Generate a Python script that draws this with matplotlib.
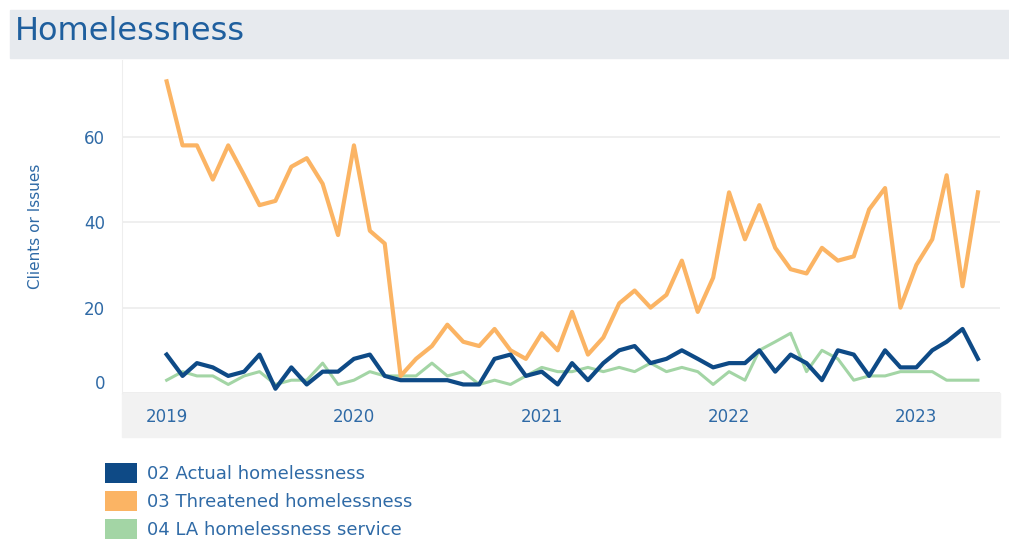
import pandas as pd
import matplotlib as mpl
import matplotlib.pyplot as plt
from matplotlib.patches import Patch, Rectangle

mpl.use('Agg')

# monthly counts, Jan 2019 - May 2023
months = pd.date_range('2019-01-01', periods=53, freq='MS')

actual = [9, 4, 7, 6, 4, 5, 9, 1, 6, 2, 5, 5,
          8, 9, 4, 3, 3, 3, 3, 2, 2, 8, 9, 4,
          5, 2, 7, 3, 7, 10, 11, 7, 8, 10, 8, 6,
          7, 7, 10, 5, 9, 7, 3, 10, 9, 4, 10, 6,
          6, 10, 12, 15, 8]
threatened = [73, 58, 58, 50, 58, 51, 44, 45, 53, 55, 49, 37,
              58, 38, 35, 4, 8, 11, 16, 12, 11, 15, 10, 8,
              14, 10, 19, 9, 13, 21, 24, 20, 23, 31, 19, 27,
              47, 36, 44, 34, 29, 28, 34, 31, 32, 43, 48, 20,
              30, 36, 51, 25, 47]
la_service = [3, 5, 4, 4, 2, 4, 5, 2, 3, 3, 7, 2,
              3, 5, 4, 4, 4, 7, 4, 5, 2, 3, 2, 4,
              6, 5, 5, 6, 5, 6, 5, 7, 5, 6, 5, 2,
              5, 3, 10, 12, 14, 5, 10, 8, 3, 4, 4, 5,
              5, 5, 3, 3, 3]

series_names = ['02 Actual homelessness', '03 Threatened homelessness',
                '04 LA homelessness service']
colors = ['#0e4a86', '#fbb464', '#a3d5a5']
text_blue = '#2f6aa6'

fig = plt.figure(figsize=(10.09, 5.41), dpi=100)
W, H = 1009, 541

# title bar
fig.patches.append(Rectangle((10 / W, 1 - 58 / H), 1 - 10 / W, 48 / H,
                             transform=fig.transFigure, color='#e7eaee', zorder=-1))
fig.text(15 / W, 1 - 31 / H, 'Homelessness', fontsize=23, color='#1f5f9e',
         va='center', ha='left')

# x-axis header band
fig.patches.append(Rectangle((122 / W, 1 - 437 / H), (1000 - 122) / W, 44 / H,
                             transform=fig.transFigure, color='#f2f2f2', zorder=-1))

ax = fig.add_axes([122 / W, 1 - 393 / H, (1000 - 122) / W, (393 - 60) / H])
ax.patch.set_alpha(0)
ax.plot(months, la_service, color=colors[2], lw=2.2, zorder=2)
ax.plot(months, threatened, color=colors[1], lw=3, zorder=3)
ax.plot(months, actual, color=colors[0], lw=3, zorder=4)

ax.set_xlim(pd.Timestamp('2018-10-06'), pd.Timestamp('2023-06-13'))
ax.set_ylim(0, 78)
ax.set_yticks([0, 20, 40, 60])
ax.set_xticks(pd.date_range('2019-01-01', periods=5, freq='YS'))
ax.set_xticklabels(['2019', '2020', '2021', '2022', '2023'])
ax.grid(axis='y', color='#ececec', lw=1.2)
ax.set_axisbelow(True)
ax.tick_params(length=0, labelsize=12, labelcolor=text_blue)
ax.tick_params(axis='x', pad=11)
ax.tick_params(axis='y', pad=12)
ax.get_yticklabels()[0].set_va('bottom')
for side in ['top', 'right', 'bottom']:
    ax.spines[side].set_visible(False)
ax.spines['left'].set_color('#eeeeee')
ax.set_ylabel('Clients or Issues', fontsize=11, color=text_blue, labelpad=30)

handles = [Patch(facecolor=c, edgecolor='none') for c in colors]
fig.legend(handles, series_names, loc='upper left',
           bbox_to_anchor=(105 / W, 1 - 463 / H), frameon=False,
           fontsize=13, labelcolor=text_blue, handlelength=1.75,
           handleheight=1.3, handletextpad=0.55, labelspacing=0.45,
           borderpad=0, borderaxespad=0)

plt.savefig('out.png', dpi=100)
plt.close()
